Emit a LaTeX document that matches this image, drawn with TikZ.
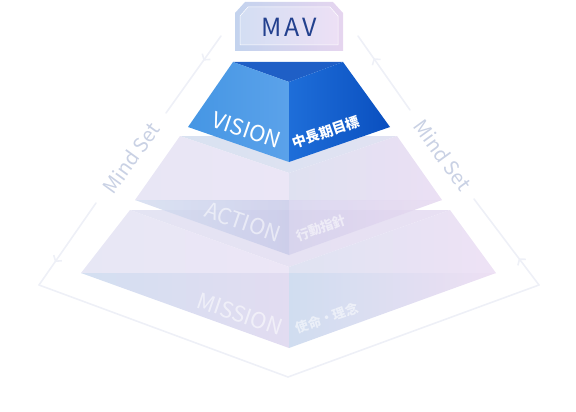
\documentclass[tikz,border=0pt]{standalone}
\usepackage{fontspec}
\setmainfont{Noto Sans CJK JP}
\usepackage{tikz}
\usepackage{xcolor}
\usetikzlibrary{arrows.meta,decorations.markings}

\definecolor{lineclr}{HTML}{EEF0F7}
\definecolor{mindclr}{HTML}{C9D1E4}
\definecolor{mavclr}{HTML}{22408E}
% mission
\definecolor{misTopL}{HTML}{E4E4F3}\definecolor{misTopR}{HTML}{E8E0F3}
\definecolor{misUlL}{HTML}{E7E7F5}\definecolor{misUlR}{HTML}{ECE6F6}
\definecolor{misLlL}{HTML}{D3DFF1}\definecolor{misLlR}{HTML}{E2DCF1}
\definecolor{misUrL}{HTML}{DFE3F2}\definecolor{misUrR}{HTML}{EEE2F5}
\definecolor{misLrL}{HTML}{D0DDF0}\definecolor{misLrR}{HTML}{EDDFF3}
% action
\definecolor{actTopL}{HTML}{D9E2F1}\definecolor{actTopR}{HTML}{E1E2F2}
\definecolor{actUlL}{HTML}{E8E6F5}\definecolor{actUlR}{HTML}{EBE6F6}
\definecolor{actUrL}{HTML}{DFE1F1}\definecolor{actUrR}{HTML}{EBE0F4}
\definecolor{actLlL}{HTML}{D4DDF0}\definecolor{actLlR}{HTML}{C9CBE9}
\definecolor{actLrL}{HTML}{D5D2ED}\definecolor{actLrR}{HTML}{E6D8F0}
% vision
\definecolor{visTop}{HTML}{1F5FC6}
\definecolor{visLL}{HTML}{4596E4}\definecolor{visLR}{HTML}{5BA2EA}
\definecolor{visRL}{HTML}{1E6ED9}\definecolor{visRR}{HTML}{0A4FBF}
% mav
\definecolor{mavOutL}{HTML}{C3D3EE}\definecolor{mavOutR}{HTML}{E6D5EF}
\definecolor{mavInL}{HTML}{D3DEF3}\definecolor{mavInR}{HTML}{EDE0F5}

\begin{document}
\begin{tikzpicture}[x=1pt,y=-1pt,
  mindline/.style={draw=lineclr,line width=1.6pt,line cap=round,line join=round},
  chevron/.style={postaction={decorate},decoration={markings,
    mark=at position #1 with {\arrow{Straight Barb[length=4pt,width=10pt]}}}},
  facetext/.style={text=white,inner sep=0pt},
  fainttext/.style={text=white,text opacity=0.55,inner sep=0pt},
  mindtext/.style={text=mindclr,inner sep=0pt,font=\fontsize{20}{20}\selectfont}]
\useasboundingbox (0,0) rectangle (576,412);
% mind set frame
\draw[mindline,chevron=0.32] (221,36) -- (166,113);
\draw[mindline,chevron=0.72] (96,203) -- (39,285);
\draw[mindline] (39,285) -- (288,377) -- (539,285);
\draw[mindline,chevron=0.31] (539,285) -- (474,199);
\draw[mindline,chevron=0.70] (410,110) -- (358,36);
\node[mindtext,rotate=54] (msl) at (131,158) {Mind Set};
\node[mindtext,rotate=-54] (msr) at (443,155) {Mind Set};
% mission
\shade[left color=misTopL,right color=misTopR] (130,210) -- (450,210) -- (289,267) -- cycle;
\shade[left color=misUlL,right color=misUlR] (130,210) -- (289,267) -- (289,273) -- (81,273) -- cycle;
\shade[left color=misLlL,right color=misLlR] (81,273) -- (289,273) -- (289,348) -- cycle;
\shade[left color=misUrL,right color=misUrR] (450,210) -- (289,267) -- (289,273) -- (496,273) -- cycle;
\shade[left color=misLrL,right color=misLrR] (496,273) -- (289,273) -- (289,348) -- cycle;
% action
\shade[left color=actTopL,right color=actTopR] (180,136) -- (397,136) -- (289,173) -- cycle;
\shade[left color=actUlL,right color=actUlR] (180,136) -- (289,173) -- (289,200) -- (135,200) -- cycle;
\shade[left color=actUrL,right color=actUrR] (397,136) -- (289,173) -- (289,200) -- (442,200) -- cycle;
\shade[left color=actLlL,right color=actLlR,fill opacity=0.85] (135,200) -- (289,200) -- (289,255) -- cycle;
\shade[left color=actLrL,right color=actLrR,fill opacity=0.85] (442,200) -- (289,200) -- (289,255) -- cycle;
% vision
\fill[visTop] (233,62) -- (343,62) -- (289,82) -- cycle;
\shade[left color=visLL,right color=visLR] (233,62) -- (289,82) -- (289,162) -- (188,127) -- cycle;
\shade[left color=visRL,right color=visRR] (343,62) -- (289,82) -- (289,162) -- (390,127) -- cycle;
% mav
\shade[left color=mavOutL,right color=mavOutR] (235,13) -- (245,2) -- (333,2) -- (343,13) -- (343,51) -- (235,51) -- cycle;
\shade[left color=mavInL,right color=mavInR,draw=white!40,line width=0.5pt] (240,16) -- (248,7) -- (330,7) -- (338,16) -- (338,45) -- (240,45) -- cycle;
\node[text=mavclr,inner sep=0pt,font=\fontsize{25}{25}\selectfont] (mav) at (289,27) {M\hspace{3pt}A\hspace{3pt}V};
% labels
\node[facetext,rotate=-19,font=\fontsize{22}{22}\selectfont] (vis) at (247,130) {VISION};
\node[facetext,rotate=19,font=\fontsize{14}{14}\selectfont\bfseries] (visj) at (326,132) {中長期目標};
\node[fainttext,rotate=-19,font=\fontsize{22}{22}\selectfont] (act) at (243,222) {ACTION};
\node[fainttext,rotate=19,font=\fontsize{13}{13}\selectfont\bfseries] (actj) at (321,228) {行動指針};
\node[fainttext,rotate=-19,font=\fontsize{22}{22}\selectfont] (mis) at (240,314) {MISSION};
\node[fainttext,rotate=19,font=\fontsize{13}{13}\selectfont\bfseries] (misj) at (327,318) {使命・理念};
\end{tikzpicture}
\end{document}
